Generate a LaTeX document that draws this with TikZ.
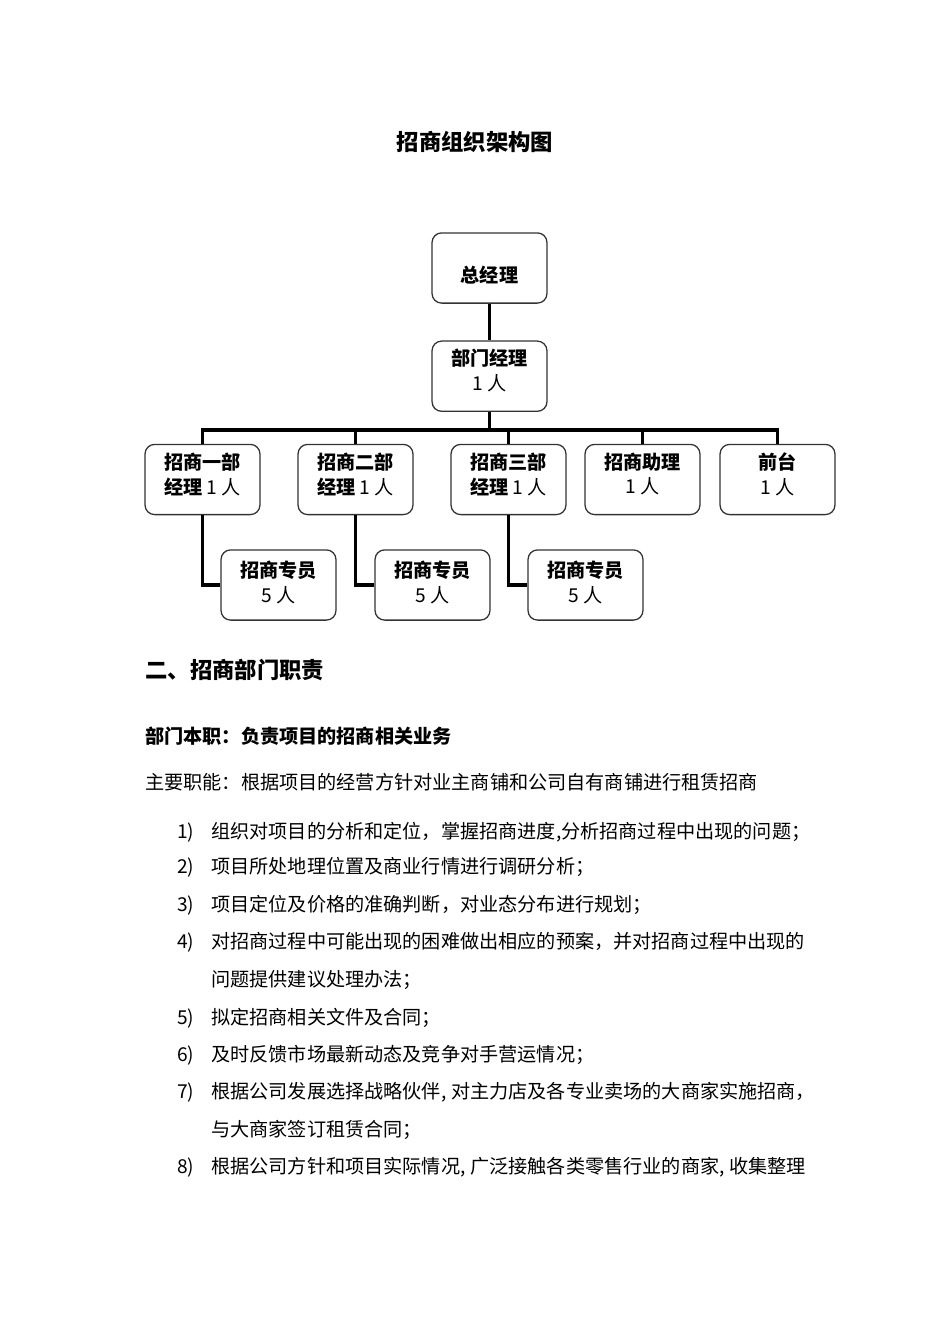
\documentclass[tikz,border=0pt]{standalone}
\usepackage{fontspec}
\setmainfont{Noto Sans CJK SC}
\usetikzlibrary{positioning}

\begin{document}
\begin{tikzpicture}[
    x=0.6266pt, y=-0.6266pt,
    box/.style={draw=black!80,line width=0.8pt,rounded corners=6pt,
      minimum width=72pt,minimum height=44pt,align=center,inner sep=1pt,
      font=\fontsize{12}{15.5}\selectfont},
    up/.style={text depth=#1},
    link/.style={line width=1.9pt},
    txt/.style={anchor=base west,inner sep=0pt,font=\fontsize{12}{14}\selectfont}
    ]
    \useasboundingbox (0,0) rectangle (950,1344);
    % title
    \node[inner sep=0pt,anchor=base,font=\fontsize{14}{16}\selectfont\bfseries]
      (title) at (475,150) {招商组织架构图};
    % chart
    \node[box,text height=19pt] (gm) at (489.5,268) {\textbf{总经理}};
    \node[box,up=7.7pt,below=23pt of gm] (mgr) {\textbf{部门经理}\\1 人};
    \node[box,up=7.7pt] (a1) at (202.5,479.5) {\textbf{招商一部}\\\textbf{经理} 1 人};
    \node[box,up=7.7pt] (a2) at (355.5,479.5) {\textbf{招商二部}\\\textbf{经理} 1 人};
    \node[box,up=7.7pt] (a3) at (508.5,479.5) {\textbf{招商三部}\\\textbf{经理} 1 人};
    \node[box,up=7.7pt] (a4) at (642.5,479.5) {\textbf{招商助理}\\1 人};
    \node[box,up=7.7pt] (a5) at (777.5,479.5) {\textbf{前台}\\1 人};
    \node[box,up=4pt] (s1) at (278.5,585) {\textbf{招商专员}\\5 人};
    \node[box,up=4pt] (s2) at (432.5,585) {\textbf{招商专员}\\5 人};
    \node[box,up=4pt] (s3) at (585.5,585) {\textbf{招商专员}\\5 人};
    \coordinate (bus) at (489.5,430);
    \draw[link] (gm) -- (mgr);
    \draw[link] (mgr.south) -- (mgr.south |- bus);
    \draw[link] (a1.north) -- (a1.north |- bus) -- (a5.north |- bus) -- (a5.north);
    \foreach \n in {a2,a3,a4}
      \draw[link] (\n.north) -- (\n.north |- bus);
    \draw[link] (a1.south) |- (s1.west);
    \draw[link] (a2.south) |- (s2.west);
    \draw[link] (a3.south) |- (s3.west);
    % duties
    \node[txt,font=\fontsize{14}{16}\selectfont\bfseries] (head) at (145,678) {二、招商部门职责};
    \node[txt,font=\fontsize{12}{14}\selectfont\bfseries] (duty) at (145,743) {部门本职：负责项目的招商相关业务};
    \node[txt] (main) at (145,789) {主要职能：根据项目的经营方针对业主商铺和公司自有商铺进行租赁招商};
    \node[txt] (n1) at (177,838) {1)};
    \node[txt] (t1) at (211,838) {组织对项目的分析和定位，掌握招商进度,分析招商过程中出现的问题；};
    \node[txt] (n2) at (177,873) {2)};
    \node[txt] (t2) at (211,873) {项目所处地理位置及商业行情进行调研分析；};
    \node[txt] (n3) at (177,911) {3)};
    \node[txt] (t3) at (211,911) {项目定位及价格的准确判断，对业态分布进行规划；};
    \node[txt] (n4) at (177,948) {4)};
    \node[txt] (t4) at (211,948) {对招商过程中可能出现的困难做出相应的预案，并对招商过程中出现的};
    \node[txt] (t4b) at (211,986) {问题提供建议处理办法；};
    \node[txt] (n5) at (177,1024) {5)};
    \node[txt] (t5) at (211,1024) {拟定招商相关文件及合同；};
    \node[txt] (n6) at (177,1061) {6)};
    \node[txt] (t6) at (211,1061) {及时反馈市场最新动态及竞争对手营运情况；};
    \node[txt] (n7) at (177,1098) {7)};
    \node[txt] (t7) at (211,1098) {根据公司发展选择战略伙伴,\hspace{3pt}对主力店及各专业卖场的大商家实施招商，};
    \node[txt] (t7b) at (211,1136) {与大商家签订租赁合同；};
    \node[txt] (n8) at (177,1173) {8)};
    \node[txt] (t8) at (211,1173) {根据公司方针和项目实际情况,\hspace{3pt}广泛接触各类零售行业的商家,\hspace{3pt}收集整理};
  \end{tikzpicture}
\end{document}
